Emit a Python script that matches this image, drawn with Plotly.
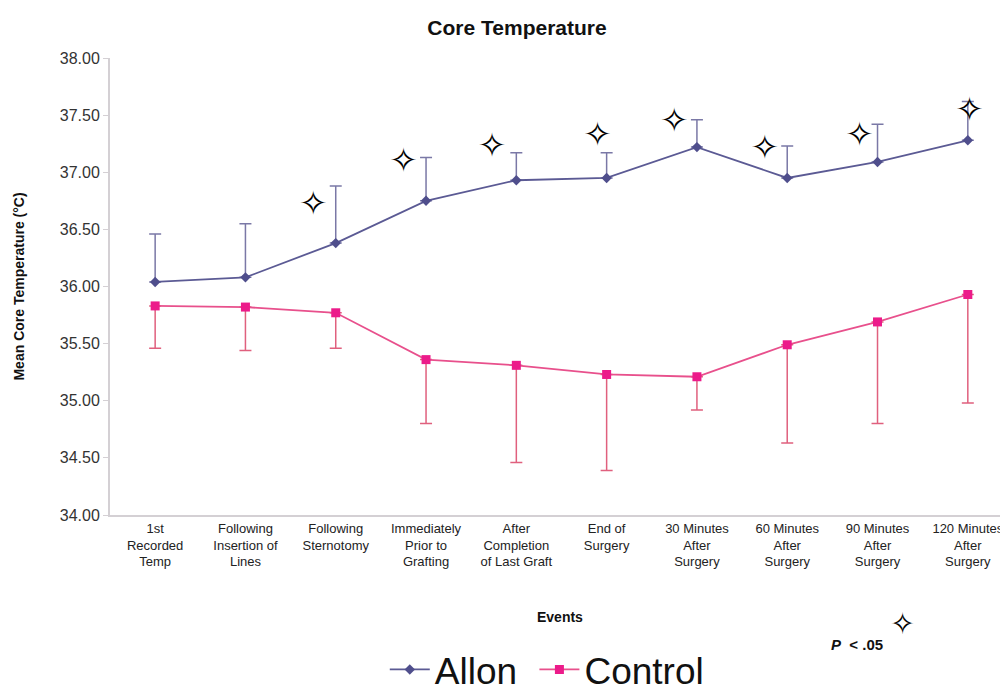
import plotly.graph_objects as go

categories = ["1st<br>Recorded<br>Temp", "Following<br>Insertion of<br>Lines", "Following<br>Sternotomy",
              "Immediately<br>Prior to<br>Grafting", "After<br>Completion<br>of Last Graft", "End of<br>Surgery",
              "30 Minutes<br>After<br>Surgery", "60 Minutes<br>After<br>Surgery", "90 Minutes<br>After<br>Surgery",
              "120 Minutes<br>After<br>Surgery"]
allon_mean = [36.04, 36.08, 36.38, 36.75, 36.93, 36.95, 37.22, 36.95, 37.09, 37.28]
allon_upper = [36.46, 36.55, 36.88, 37.13, 37.17, 37.17, 37.46, 37.23, 37.42, 37.62]
control_mean = [35.83, 35.82, 35.77, 35.36, 35.31, 35.23, 35.21, 35.49, 35.69, 35.93]
control_lower = [35.46, 35.44, 35.46, 34.80, 34.46, 34.39, 34.92, 34.63, 34.80, 34.98]
# significance markers (category position, y)
sig_x = [1.75, 2.75, 3.73, 4.9, 5.75, 6.75, 7.8, 9.02]
sig_y = [36.70, 37.08, 37.21, 37.30, 37.43, 37.19, 37.30, 37.52]

xi = list(range(len(categories)))

fig = go.Figure()
fig.add_trace(go.Scatter(
    x=xi, y=allon_mean, name="Allon\u2004", mode="lines+markers",
    line=dict(color="#5b5a94", width=1.8),
    marker=dict(symbol="diamond", size=8, color="#4f4e8c"),
    error_y=dict(type="data", symmetric=False,
                 array=[u - m for u, m in zip(allon_upper, allon_mean)],
                 arrayminus=[0] * len(allon_mean),
                 color="#7a78a6", thickness=1.5, width=6),
))
fig.add_trace(go.Scatter(
    x=xi, y=control_mean, name="Control", mode="lines+markers",
    line=dict(color="#e8508c", width=1.8),
    marker=dict(symbol="square", size=9, color="#ec1b8a"),
    error_y=dict(type="data", symmetric=False,
                 array=[0] * len(control_mean),
                 arrayminus=[m - l for m, l in zip(control_mean, control_lower)],
                 color="#e0607e", thickness=1.5, width=6),
))
fig.add_trace(go.Scatter(
    x=sig_x, y=sig_y, mode="text", text=["✧"] * len(sig_x), showlegend=False,
    hoverinfo="skip", textposition="middle center", cliponaxis=False,
    textfont=dict(family="DejaVu Sans", size=34, color="black"),
))

fig.update_layout(
    width=1000, height=686,
    margin=dict(l=102, r=0, t=50, b=179, autoexpand=False),
    paper_bgcolor="white", plot_bgcolor="white",
    font=dict(family="Liberation Sans, Arial, sans-serif", color="#222"),
    title=dict(text="<b>Core Temperature</b>", x=0.509, xref="container", y=1 - 20 / 686,
               yanchor="middle", xanchor="center", font=dict(size=21, color="#111")),
    showlegend=True,
    legend=dict(orientation="h", x=0.306, xanchor="left", y=-0.339, yanchor="middle",
                font=dict(size=37, color="#111"), bgcolor="rgba(0,0,0,0)", itemwidth=40),
    xaxis=dict(
        tickmode="array", tickvals=xi, ticktext=categories,
        range=[-0.5, 9.445], showgrid=False, zeroline=False,
        showline=True, linecolor="#d4d0d4", linewidth=2,
        ticks="", tickfont=dict(size=13, color="#222"),
    ),
    yaxis=dict(
        range=[34, 38], tickmode="array",
        tickvals=[34, 34.5, 35, 35.5, 36, 36.5, 37, 37.5, 38],
        ticktext=["34.00", "34.50", "35.00", "35.50", "36.00", "36.50", "37.00", "37.50", "38.00"],
        showgrid=False, zeroline=False, showline=True, linecolor="#d4d0d4", linewidth=2,
        ticks="outside", ticklen=5, tickcolor="#d4d0d4",
        tickfont=dict(size=16, color="#333"),
    ),
    annotations=[
        dict(text="<b>Mean Core Temperature (°C)</b>", xref="paper", yref="paper",
             x=-0.1024, y=0.5, textangle=-90, showarrow=False,
             font=dict(size=14, color="#111"), xanchor="center", yanchor="middle"),
        dict(text="<b>Events</b>", xref="paper", yref="paper", x=0.501, y=-0.223,
             showarrow=False, font=dict(size=14, color="#111"),
             xanchor="center", yanchor="middle"),
        dict(text="<b><i>P</i>  < .05</b>", xref="paper", yref="paper", x=0.832, y=-0.284,
             showarrow=False, font=dict(size=15, color="#111"),
             xanchor="center", yanchor="middle"),
        dict(text="✧", xref="paper", yref="paper", x=0.883, y=-0.2385,
             showarrow=False, font=dict(family="DejaVu Sans", size=30, color="black"),
             xanchor="center", yanchor="middle"),
    ],
)

fig.write_html("out.html")
